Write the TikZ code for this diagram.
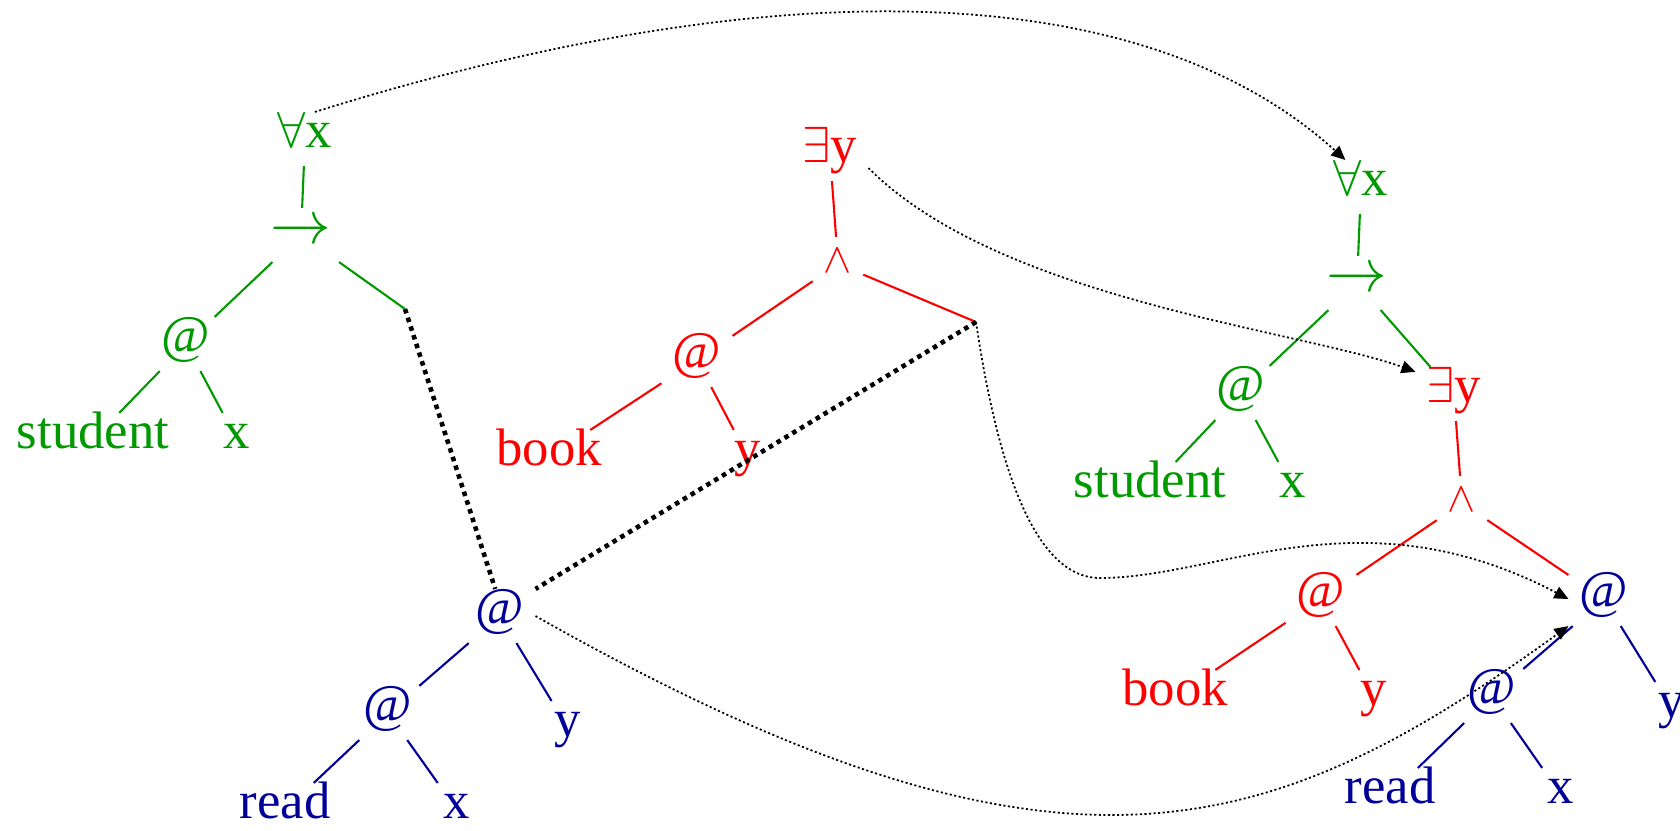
\documentclass[tikz,border=0pt]{standalone}
\usepackage{fontspec}
\setmainfont{Liberation Serif}
\usetikzlibrary{arrows.meta}
\definecolor{termgreen}{HTML}{009900}
\definecolor{termred}{HTML}{FF0000}
\definecolor{termblue}{HTML}{000099}

\begin{document}
\begin{tikzpicture}[x=1cm,y=1cm,>={Triangle[length=4pt,width=3.6pt]},
  trm/.style={inner sep=3pt,text height=0.7em,text depth=0.2em,font=\fontsize{15}{18}\selectfont},
  gt/.style={trm,text=termgreen},
  rt/.style={trm,text=termred},
  bt/.style={trm,text=termblue},
  small/.style={font=\fontsize{12}{14}\selectfont},
  big/.style={font=\fontsize{17.28}{20}\selectfont},
  gl/.style={termgreen,line width=0.6pt},
  rl/.style={termred,line width=0.6pt},
  bl/.style={termblue,line width=0.6pt},
  gap/.style={line width=1.3pt,dash pattern=on 1.3pt off 1.3pt},
  mv/.style={->,line width=0.5pt,dash pattern=on 0.6pt off 0.7pt}]
  \useasboundingbox (0,0) rectangle (16.8,8.3);
  % every student
  \node[gt] (allL) at (3.05,6.91) {$\forall$x};
  \node[gt,big] (impL) at (3.01,5.95) {$\rightarrow$};
  \node[gt] (atL) at (1.86,4.86) {@};
  \node[gt] (studL) at (0.93,3.90) {student};
  \node[gt] (xL) at (2.37,3.90) {x};
  \coordinate (brL) at (4.05,5.21);
  % some book
  \node[rt] (exM) at (8.30,6.76) {$\exists$y};
  \node[rt,small] (andM) at (8.38,5.66) {$\wedge$};
  \node[rt] (atM) at (6.97,4.70) {@};
  \node[rt] (bookM) at (5.49,3.73) {book};
  \node[rt] (yM) at (7.48,3.73) {y};
  \coordinate (brM) at (9.76,5.08);
  % verb
  \node[bt] (atB) at (5.00,2.14) {@};
  \node[bt] (atBB) at (3.88,1.17) {@};
  \node[bt] (yB) at (5.68,1.02) {y};
  \node[bt] (readB) at (2.85,0.20) {read};
  \node[bt] (xB) at (4.57,0.20) {x};
  % result
  \node[gt] (allR) at (13.61,6.43) {$\forall$x};
  \node[gt,big] (impR) at (13.57,5.47) {$\rightarrow$};
  \node[gt] (atR) at (12.41,4.37) {@};
  \node[gt] (studR) at (11.50,3.41) {student};
  \node[gt] (xR) at (12.93,3.41) {x};
  \node[rt] (exR) at (14.54,4.36) {$\exists$y};
  \node[rt,small] (andR) at (14.62,3.27) {$\wedge$};
  \node[rt] (atRr) at (13.21,2.31) {@};
  \node[rt] (bookR) at (11.75,1.33) {book};
  \node[rt] (yR) at (13.74,1.33) {y};
  \node[bt] (atRb) at (16.04,2.31) {@};
  \node[bt] (atRbb) at (14.92,1.34) {@};
  \node[bt] (yRb) at (16.72,1.21) {y};
  \node[bt] (readR) at (13.90,0.35) {read};
  \node[bt] (xRb) at (15.61,0.35) {x};
  % branches
  \foreach \a/\b in {allL/impL,impL/atL,impL/brL,atL/studL,atL/xL,allR/impR,impR/atR,impR/exR,atR/studR,atR/xR}{\draw[gl] (\a) -- (\b);}
  \foreach \a/\b in {exM/andM,andM/atM,andM/brM,atM/bookM,atM/yM,exR/andR,andR/atRr,andR/atRb,atRr/bookR,atRr/yR}{\draw[rl] (\a) -- (\b);}
  \foreach \a/\b in {atB/atBB,atB/yB,atBB/readB,atBB/xB,atRb/atRbb,atRb/yRb,atRbb/readR,atRbb/xRb}{\draw[bl] (\a) -- (\b);}
  % holes
  \draw[gap] (brL) -- (atB.100);
  \draw[gap] (brM) -- (atB.north east);
  % moves
  \draw[mv] (allL.70) .. controls (7.66,8.59) and (11.39,8.57) .. (allR.120);
  \draw[mv] (exM.-20) .. controls (10.00,5.30) and (13.00,5.00) .. (exR.150);
  \draw[mv] (brM) .. controls (9.95,3.80) and (10.30,2.52) .. (11.00,2.52)
    .. controls (12.20,2.52) and (13.60,3.40) .. (atRb.west);
  \draw[mv] (atB.east) .. controls (10.63,-0.85) and (12.72,-0.10) .. (atRb.south west);
\end{tikzpicture}
\end{document}
